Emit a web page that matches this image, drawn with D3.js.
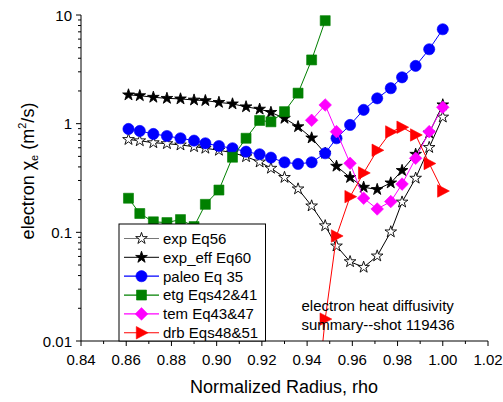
<!DOCTYPE html>
<html>
<head>
<meta charset="utf-8">
<script src="https://cdn.jsdelivr.net/npm/d3@7"></script>
<style>
html,body{margin:0;padding:0;background:#fff;}
svg{display:block;font-family:"Liberation Sans",Arial,sans-serif;}
</style>
</head>
<body>
<svg id="chart" width="503" height="402"></svg>
<script>
// ---- data ----
const rho = [0.861, 0.866, 0.872, 0.878, 0.884, 0.890, 0.895, 0.901, 0.907, 0.913, 0.919, 0.924, 0.930,
             0.936, 0.942, 0.948, 0.953, 0.959, 0.965, 0.971, 0.977, 0.982, 0.988, 0.994, 1.000];
const expEq56 = [0.715, 0.696, 0.668, 0.655, 0.637, 0.614, 0.594, 0.569, 0.541, 0.497, 0.444, 0.389, 0.320,
                 0.251, 0.175, 0.115, 0.0749, 0.0537, 0.0477, 0.0606, 0.101, 0.190, 0.315, 0.604, 1.15];
const expEffEq60 = [1.84, 1.81, 1.75, 1.71, 1.69, 1.65, 1.63, 1.57, 1.52, 1.43, 1.36, 1.27, 1.12,
                    0.938, 0.739, 0.534, 0.406, 0.320, 0.260, 0.248, 0.285, 0.371, 0.523, 0.821, 1.49];
const paleoEq35 = [0.894, 0.857, 0.804, 0.770, 0.734, 0.698, 0.660, 0.623, 0.594, 0.552, 0.523, 0.487, 0.441,
                   0.426, 0.441, 0.534, 0.734, 0.973, 1.34, 1.71, 2.12, 2.67, 3.40, 4.84, 7.39];
const etgEqs42_41 = [0.206, 0.149, 0.125, 0.123, 0.131, 0.113, 0.181, 0.245, 0.491, 0.734, 1.07, 1.04, 1.29,
                     1.91, 3.86, 8.87]; // rho[0..15]
const temEq43_47 = [1.075, 1.486, 0.844, 0.432, 0.206, 0.164, 0.192, 0.278, 0.480, 0.844, 1.415]; // rho[14..24]
const drbEqs48_51 = [0.001, 0.0159, 0.0926, 0.213, 0.352, 0.569, 0.839, 0.927, 0.787, 0.430, 0.240]; // rho[14..24]
const xTicks = [0.84, 0.86, 0.88, 0.90, 0.92, 0.94, 0.96, 0.98, 1.00, 1.02];
const yTicks = [0.01, 0.1, 1, 10];
const yTickLabels = ["0.01", "0.1", "1", "10"];
const legendLabels = ["exp Eq56", "exp_eff Eq60", "paleo Eq 35", "etg Eqs42&41", "tem Eq43&47", "drb Eqs48&51"];
const noteLines = ["electron heat diffusivity", "summary--shot 119436"];

// ---- setup ----
const svg = d3.select("#chart");
const X0 = 81, X1 = 488, Y0 = 341, Y1 = 15;
const x = d3.scaleLinear().domain([0.84, 1.02]).range([X0, X1]);
const y = d3.scaleLog().domain([0.01, 10]).range([Y0, Y1]);

const series = [
  {name: legendLabels[0], vals: expEq56, start: 0, color: "#000", marker: "star", fill: "#fff", legendLine: "#777"},
  {name: legendLabels[1], vals: expEffEq60, start: 0, color: "#000", marker: "star", fill: "#000", legendLine: "#333"},
  {name: legendLabels[2], vals: paleoEq35, start: 0, color: "#0000ff", marker: "circle", fill: "#0000ff", legendLine: "#0000ff"},
  {name: legendLabels[3], vals: etgEqs42_41, start: 0, color: "#008000", marker: "square", fill: "#008000", legendLine: "#008000"},
  {name: legendLabels[4], vals: temEq43_47, start: 14, color: "#ff00ff", marker: "diamond", fill: "#ff00ff", legendLine: "#ff00ff"},
  {name: legendLabels[5], vals: drbEqs48_51, start: 14, color: "#ff0000", marker: "triangle", fill: "#ff0000", legendLine: "#ff0000"}
];

const starPath = d3.symbol().type(d3.symbolStar).size(42)();
function markerPath(m) {
  if (m === "star") return starPath;
  if (m === "circle") return d3.symbol().type(d3.symbolCircle).size(Math.PI * 5.6 * 5.6)();
  if (m === "square") return "M-5,-5H5V5H-5Z";
  if (m === "diamond") return "M0,-6.3L6.3,0L0,6.3L-6.3,0Z";
  if (m === "triangle") return "M-5.2,-6.2L6.6,0L-5.2,6.2Z";
}

// clip
svg.append("defs").append("clipPath").attr("id", "clip")
  .append("rect").attr("x", X0 - 10).attr("y", Y1 - 10).attr("width", X1 - X0 + 20).attr("height", Y0 - Y1 + 10);

const plot = svg.append("g").attr("clip-path", "url(#clip)");

series.forEach(s => {
  const pts = s.vals.map((v, i) => [rho[s.start + i], v]);
  const line = d3.line().x(d => x(d[0])).y(d => y(d[1]));
  plot.append("path").attr("d", line(pts)).attr("fill", "none")
    .attr("stroke", s.color).attr("stroke-width", 1);
  plot.selectAll(null).data(pts.filter(d => y(d[1]) <= Y0 + 6)).enter().append("path")
    .attr("d", markerPath(s.marker))
    .attr("transform", d => `translate(${x(d[0])},${y(d[1])})`)
    .attr("fill", s.fill)
    .attr("stroke", s.marker === "star" ? "#000" : s.color)
    .attr("stroke-width", s.marker === "star" ? 0.9 : 0.6);
});

// ---- axes ----
const fontTick = 15;
const xMinor = d3.range(0.85, 1.02, 0.02);
const xAxis = svg.append("g").attr("transform", `translate(0,${Y0})`);
xAxis.append("line").attr("x1", X0).attr("x2", X1).attr("stroke", "#000").attr("stroke-width", 1);
xAxis.selectAll(".maj").data(xTicks).enter().append("line")
  .attr("x1", d => x(d)).attr("x2", d => x(d)).attr("y1", 0).attr("y2", 5).attr("stroke", "#000");
xAxis.selectAll(".min").data(xMinor).enter().append("line")
  .attr("x1", d => x(d)).attr("x2", d => x(d)).attr("y1", 0).attr("y2", 3).attr("stroke", "#000");
xAxis.selectAll(".lab").data(xTicks).enter().append("text")
  .attr("x", d => x(d)).attr("y", 24).attr("text-anchor", "middle")
  .attr("font-size", fontTick).text(d => d3.format(".2f")(d));

const yAxis = svg.append("g").attr("transform", `translate(${X0},0)`);
yAxis.append("line").attr("y1", Y0).attr("y2", Y1).attr("stroke", "#000");
yAxis.selectAll(".maj").data(yTicks).enter().append("line")
  .attr("x1", -5).attr("x2", 0).attr("y1", d => y(d)).attr("y2", d => y(d)).attr("stroke", "#000");
const yMinor = [];
[0.01, 0.1, 1].forEach(b => { for (let k = 2; k <= 9; k++) yMinor.push(b * k); });
yAxis.selectAll(".min").data(yMinor).enter().append("line")
  .attr("x1", -3).attr("x2", 0).attr("y1", d => y(d)).attr("y2", d => y(d)).attr("stroke", "#000");
yAxis.selectAll(".lab").data(yTicks).enter().append("text")
  .attr("x", -9).attr("y", d => y(d) + 5.5).attr("text-anchor", "end")
  .attr("font-size", fontTick).text((d, i) => yTickLabels[i]);

// axis titles
svg.append("text").attr("x", 284).attr("y", 393).attr("text-anchor", "middle")
  .attr("font-size", 18).text("Normalized Radius, rho");
const yt = svg.append("text").attr("transform", "translate(34,171) rotate(-90)")
  .attr("text-anchor", "middle").attr("font-size", 18);
yt.append("tspan").text("electron χ");
yt.append("tspan").attr("font-size", 11).attr("dy", 4).text("e");
yt.append("tspan").attr("dy", -4).text(" (m");
yt.append("tspan").attr("font-size", 11).attr("dy", -8).text("2");
yt.append("tspan").attr("dy", 8).text("/s)");

// ---- legend ----
const lg = svg.append("g");
lg.append("rect").attr("x", 119).attr("y", 224).attr("width", 146.5).attr("height", Y0 - 224)
  .attr("fill", "#fff").attr("stroke", "#000").attr("stroke-width", 1);
series.forEach((s, i) => {
  const cy = 238.5 + i * 18.85;
  lg.append("line").attr("x1", 124).attr("x2", 159).attr("y1", cy).attr("y2", cy)
    .attr("stroke", s.legendLine).attr("stroke-width", 1.2);
  lg.append("path").attr("d", markerPath(s.marker)).attr("transform", `translate(141.5,${cy})`)
    .attr("fill", s.fill).attr("stroke", s.marker === "star" ? "#000" : s.color)
    .attr("stroke-width", s.marker === "star" ? 0.9 : 0.6);
  lg.append("text").attr("x", 163).attr("y", cy + 5.3).attr("font-size", 15).text(s.name);
});

// ---- note ----
noteLines.forEach((t, i) => {
  svg.append("text").attr("x", 301.5).attr("y", 310.5 + i * 19).attr("font-size", 15).text(t);
});
</script>
</body>
</html>
